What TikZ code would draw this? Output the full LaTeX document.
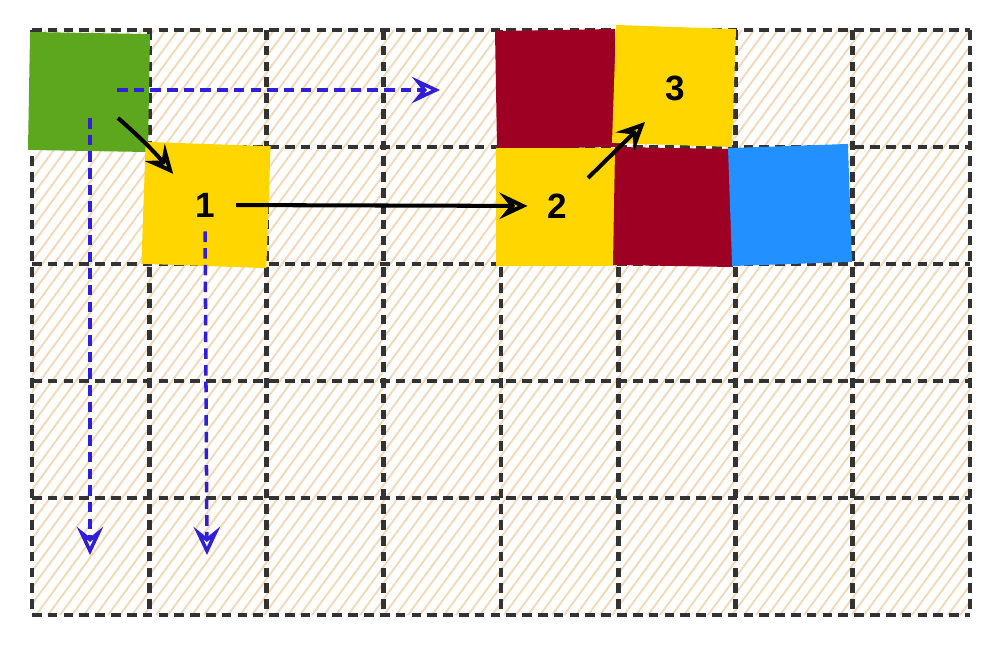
\documentclass[tikz,border=0pt]{standalone}
\usepackage{fontspec}
\setmainfont{Liberation Sans}
\usetikzlibrary{arrows.meta,positioning,calc}
\definecolor{hatch}{HTML}{F2D9BA}
\definecolor{gridgray}{HTML}{333333}
\definecolor{leaf}{HTML}{5CA71D}
\definecolor{gold}{HTML}{FFD600}
\definecolor{wine}{HTML}{9D0022}
\definecolor{sky}{HTML}{2290FF}
\definecolor{scanblue}{HTML}{2F1FD8}
\begin{document}
\begin{tikzpicture}[
  x=0.02cm, y=-0.02cm,
  cell/.style={rectangle,minimum width=2.4cm,minimum height=2.36cm,inner sep=0pt},
  gridline/.style={draw=gridgray,line width=2.8pt,dash pattern=on 5.5pt off 3.5pt},
  flow/.style={-{Stealth[open,length=16pt,width=15pt,inset=6pt]},line width=2.3pt},
  scan/.style={flow,draw=scanblue,line width=2pt,dash pattern=on 6pt off 3.5pt},
  num/.style={font=\fontsize{20}{24}\selectfont\bfseries,inner sep=1pt}
]
\useasboundingbox (0,0) rectangle (1000,648);
% hatched board
\begin{scope}
  \clip (32,30) rectangle (970,615);
  \foreach \x in {-420,-408,...,970}
    \draw[hatch,line width=1.1pt] (\x,615) -- ++(430,-585);
\end{scope}
% dashed grid, 8 x 5
\foreach \i in {0,...,8}
  \draw[gridline] ({32+117.25*\i},30) -- ({32+117.25*\i},615);
\foreach \j in {0,...,5}
  \draw[gridline] (32,{30+117*\j}) -- (970,{30+117*\j});
% coloured cells
\node[cell,fill=leaf,rotate=-1] (start) at (89,92) {};
\node[cell,fill=gold,rotate=-2,minimum width=2.5cm,minimum height=2.44cm] (cellA) at (206,205) {};
\node[cell,fill=wine,rotate=1] (wineA) at (556,89) {};
\node[cell,fill=gold,rotate=-2] (cellC) at (674,86) {};
\node[cell,fill=gold] (cellB) at (556,207) {};
\node[cell,fill=wine,rotate=-1] (wineB) at (674,207) {};
\node[cell,fill=sky,rotate=2] (skyA) at (790,205) {};
% numbers
\node[num] (one) at (205,205) {1};
\node[num] (two) at (557,206) {2};
\node[num] (three) at (675,88) {3};
% free ends of the scans
\coordinate (rowend) at (440,90);
\coordinate (colend0) at (90,555);
\coordinate (colend1) at (207,555);
% blue scans
\draw[scan] ($(start.center)+(28,-2)$) -- (rowend);
\draw[scan] ($(start.center)+(1,26)$) -- (colend0);
\draw[scan,shorten <=7pt] (one.south) -- (colend1);
% black steps
\draw[flow] ($(start.center)+(29,26)$) to[bend left=4] ($(one.north west)+(-20,-17)$);
\draw[flow,shorten <=11pt,shorten >=10pt] (one.east) -- (two.west);
\draw[flow] ($(two.center)+(31,-28)$) -- ($(three.center)+(-30,34)$);
\end{tikzpicture}
\end{document}
